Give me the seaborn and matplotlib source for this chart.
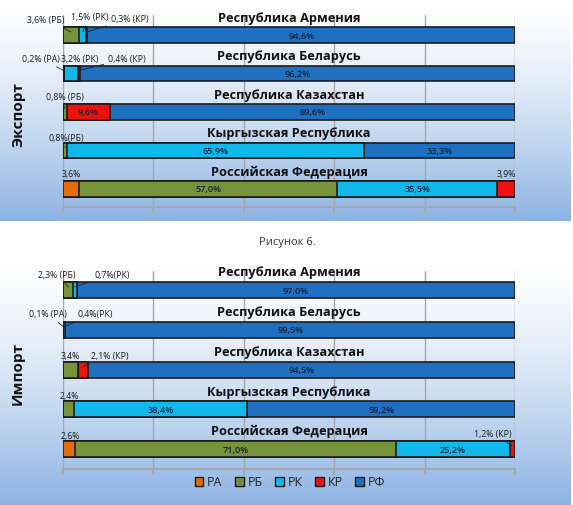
import numpy as np
import pandas as pd
import matplotlib
matplotlib.use("Agg")
import matplotlib.pyplot as plt
from matplotlib.patches import Patch
import seaborn as sns

countries = ["Республика Армения", "Республика Беларусь", "Республика Казахстан",
             "Кыргызская Республика", "Российская Федерация"]
categories = ["РА", "РБ", "РК", "КР", "РФ"]
colors = ["#e46c0a", "#77933c", "#12b8ec", "#f01010", "#1f70c1"]

# export shares, %, columns = categories
export_ra = [0.0, 0.2, 0.0, 0.0, 3.6]
export_rb = [3.6, 0.0, 0.8, 0.8, 57.0]
export_rk = [1.5, 3.2, 0.0, 65.9, 35.5]
export_kr = [0.3, 0.4, 9.6, 0.0, 3.9]
export_rf = [94.6, 96.2, 89.6, 33.3, 0.0]

# import shares, %
import_ra = [0.0, 0.1, 0.0, 0.0, 2.6]
import_rb = [2.3, 0.0, 3.4, 2.4, 71.0]
import_rk = [0.7, 0.4, 0.0, 38.4, 25.2]
import_kr = [0.0, 0.0, 2.1, 0.0, 1.2]
import_rf = [97.0, 99.5, 94.5, 59.2, 0.0]

# small outside labels: (row, category, text, dx px, dy px, leader line)
export_notes = [
    (0, "РБ", "3,6% (РБ)", -25, 12, True),
    (0, "РК", "1,5% (РК)", 7, 15, True),
    (0, "КР", "0,3% (КР)", 43, 13, True),
    (1, "РА", "0,2% (РА)", -23, 12, True),
    (1, "РК", "3,2% (РК)", 9, 12, False),
    (1, "КР", "0,4% (КР)", 48, 12, True),
    (2, "РБ", "0,8% (РБ)", 0, 12, True),
    (3, "РБ", "0,8%(РБ)", 2, 10, True),
    (4, "РА", "3,6%", 0, 12, False),
    (4, "КР", "3,9%", 0, 12, False),
]
import_notes = [
    (0, "РБ", "2,3% (РБ)", -11, 12, True),
    (0, "РК", "0,7%(РК)", 37, 12, True),
    (1, "РА", "0,1% (РА)", -15, 13, True),
    (1, "РК", "0,4%(РК)", 31, 13, True),
    (2, "РБ", "3,4%", 0, 11, False),
    (2, "КР", "2,1% (КР)", 27, 11, True),
    (3, "РБ", "2,4%", 1, 11, False),
    (4, "РА", "2,6%", 1, 10, False),
    (4, "КР", "1,2% (КР)", -19, 12, True),
]

sns.set_theme(style="white")
plt.rcParams["font.family"] = ["Open Sans", "DejaVu Sans"]

fig = plt.figure(figsize=(5.73, 5.06), dpi=100)

# gradient panels behind the charts
grad = np.linspace(0, 1, 256) ** 1.4
white = np.array([1.0, 1.0, 1.0])
blue = np.array([141, 179, 226]) / 255
img = (white[None, :] * (1 - grad[:, None]) + blue[None, :] * grad[:, None])[:, None, :]
for rect in ([0, 1 - 222 / 506, 571 / 573, 222 / 506], [0, 0, 571 / 573, 1 - 258 / 506]):
    bg = fig.add_axes(rect, zorder=-5)
    bg.imshow(img, aspect="auto", extent=[0, 1, 0, 1])
    bg.axis("off")


def make_df(ra, rb, rk, kr, rf):
    df = pd.DataFrame({"country": countries, "РА": ra, "РБ": rb, "РК": rk, "КР": kr, "РФ": rf})
    return df


def draw_panel(ax, df, notes, ylim, label):
    cum = df[categories].cumsum(axis=1)
    for cat, col in reversed(list(zip(categories, colors))):
        sns.barplot(x=cum[cat], y=df["country"], orient="h", color=col, saturation=1,
                    width=0.4, edgecolor="#1c1c1c", linewidth=1.2, errorbar=None, ax=ax)
    ax.set_xlim(0, 100)
    ax.set_ylim(*ylim)
    ax.set_facecolor("none")
    ax.set_xticks(np.arange(0, 101, 20))
    ax.grid(axis="x", color="#a6a6a6", linewidth=1)
    ax.set_axisbelow(True)
    ax.tick_params(axis="x", length=4, color="#a6a6a6", labelbottom=False, bottom=True, direction="out")
    ax.tick_params(axis="y", left=False, labelleft=False)
    ax.set_xlabel("")
    ax.set_ylabel("")
    for s in ["top", "right", "left"]:
        ax.spines[s].set_visible(False)
    ax.spines["bottom"].set_color("#a6a6a6")

    for i, c in enumerate(countries):
        ax.text(50, i - 0.46, c, ha="center", va="center", fontsize=9.2,
                fontweight="bold", color="#111111")
        start = 0
        for cat in categories:
            v = df.loc[i, cat]
            if v >= 5:
                ax.text(start + v / 2, i, f"{v:.1f}%".replace(".", ","), ha="center",
                        va="center", fontsize=6.6, fontweight="semibold", color="#10203a")
            start += v

    for row, cat, txt, dx, dy, line in notes:
        k = categories.index(cat)
        left = df.loc[row, categories[:k]].sum()
        mid = left + df.loc[row, cat] / 2
        ax.annotate(txt, xy=(mid, row - 0.08), xytext=(dx, dy), textcoords="offset pixels",
                    ha="center", va="center", fontsize=6.3, color="#1a1a1a",
                    arrowprops=dict(arrowstyle="-", color="#222222", lw=0.6,
                                    shrinkA=1, shrinkB=0) if line else None)

    fig.text(18 / 573, ax.get_position().y0 + ax.get_position().height / 2 - 0.005, label,
             rotation=90, ha="center", va="center", fontsize=11, fontweight="bold", color="#111111")


ax_exp = fig.add_axes([63 / 573, 1 - 208 / 506, 452 / 573, 192 / 506])
draw_panel(ax_exp, make_df(export_ra, export_rb, export_rk, export_kr, export_rf),
           export_notes, (4.47, -0.52), "Экспорт")

ax_imp = fig.add_axes([63 / 573, 36 / 506, 452 / 573, 198 / 506])
draw_panel(ax_imp, make_df(import_ra, import_rb, import_rk, import_kr, import_rf),
           import_notes, (4.5, -0.48), "Импорт")

fig.text(287 / 573, 1 - 243 / 506, "Рисунок 6.", ha="center", va="center",
         fontsize=8, color="#333333")

handles = [Patch(facecolor=c, edgecolor="#1c1c1c", linewidth=1) for c in colors]
fig.legend(handles, categories, loc="center", bbox_to_anchor=(290 / 573, 1 - 483 / 506),
           ncol=5, frameon=False, fontsize=9, handlelength=0.7, handleheight=0.7,
           handletextpad=0.3, columnspacing=1.0, labelcolor="#222222")

fig.savefig("out.png", dpi=100)
